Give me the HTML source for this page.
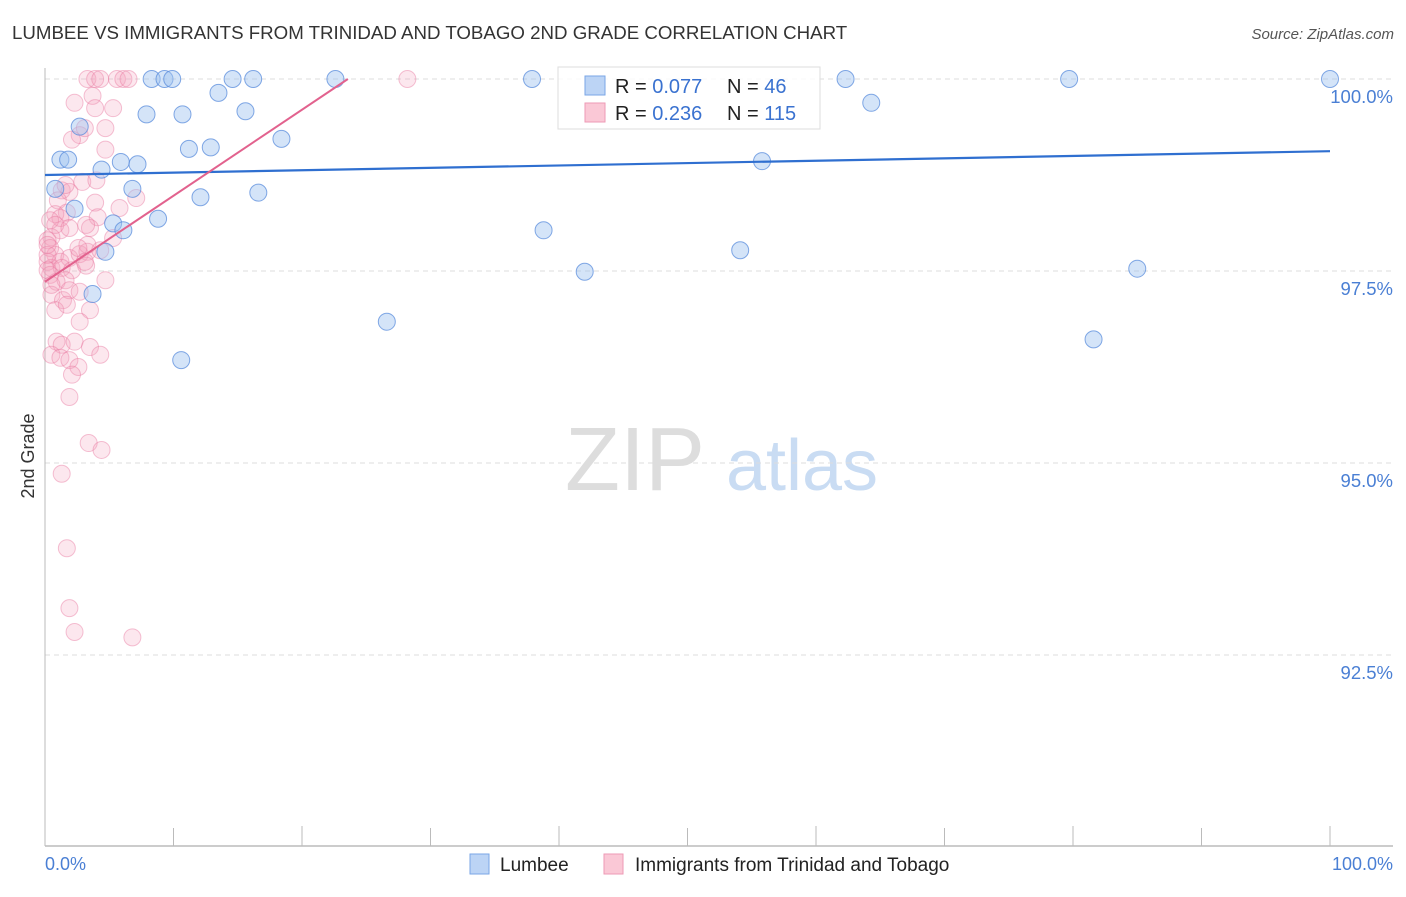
<!DOCTYPE html>
<html><head><meta charset="utf-8"><style>
body{margin:0;background:#fff;font-family:"Liberation Sans",sans-serif;}
svg text{font-family:"Liberation Sans",sans-serif;}
</style></head><body>
<svg id="chart" width="1406" height="892" xmlns="http://www.w3.org/2000/svg">
<text x="12" y="39" font-size="18.7" fill="#333">LUMBEE VS IMMIGRANTS FROM TRINIDAD AND TOBAGO 2ND GRADE CORRELATION CHART</text>
<text x="1394" y="39" font-size="15" fill="#555" text-anchor="end" font-style="italic">Source: ZipAtlas.com</text>
<text transform="translate(34,456) rotate(-90)" font-size="18" fill="#333" text-anchor="middle">2nd Grade</text>
<g>
<text x="635" y="490" font-size="90" fill="#ddd" text-anchor="middle" font-family="Liberation Serif,serif">ZIP</text>
<text x="802" y="490" font-size="72" fill="#c9dcf3" text-anchor="middle">atlas</text>
</g>
<g id="grid"></g><g id="axes"></g><g id="pts"></g><g id="trends"></g>
<g>
<rect x="558" y="67" width="262" height="62" fill="rgba(255,255,255,0.8)" stroke="#ddd"/>
<rect x="585" y="76" width="20" height="19" fill="#bcd4f5" stroke="#7aa6e6"/>
<text x="615" y="93" font-size="20" fill="#222">R = <tspan fill="#3a72d0">0.077</tspan></text>
<text x="727" y="93" font-size="20" fill="#222">N =  <tspan fill="#3a72d0">46</tspan></text>
<rect x="585" y="103" width="20" height="19" fill="#fac8d6" stroke="#ee9ab5"/>
<text x="615" y="120" font-size="20" fill="#222">R =  <tspan fill="#3a72d0">0.236</tspan></text>
<text x="727" y="120" font-size="20" fill="#222">N = <tspan fill="#3a72d0">115</tspan></text>
</g>
<g>
<rect x="470" y="854" width="19" height="20" fill="#bcd4f5" stroke="#7aa6e6"/>
<text x="500" y="871" font-size="19" fill="#222">Lumbee</text>
<rect x="604" y="854" width="19" height="20" fill="#fac8d6" stroke="#ee9ab5"/>
<text x="635" y="871" font-size="19" fill="#222">Immigrants from Trinidad and Tobago</text>
</g>
</svg>
<script>
const yTicks=[100,97.5,95,92.5];
const yTickLabels=["100.0%","97.5%","95.0%","92.5%"];
const xTickLabels=["0.0%","100.0%"];
const blueX=[8.3,9.3,9.9,14.6,16.2,22.6,37.9,62.3,79.7,100,13.5,7.9,10.7,15.6,64.3,2.7,11.2,12.9,18.4,1.2,1.8,5.9,7.2,4.4,55.8,0.8,6.8,12.1,16.6,2.3,5.3,8.8,6.1,38.8,4.7,54.1,3.7,42.0,85.0,26.6,81.6,10.6];
const blueY=[100,100,100,100,100,100,100,100,100,100,99.82,99.54,99.54,99.58,99.69,99.38,99.09,99.11,99.22,98.95,98.95,98.92,98.89,98.82,98.93,98.57,98.57,98.46,98.52,98.31,98.12,98.18,98.03,98.03,97.75,97.77,97.20,97.49,97.53,96.84,96.61,96.34];
const pinkX=[3.3,3.9,4.3,5.6,6.1,6.5,28.2,2.3,3.7,5.3,3.9,2.7,3.1,2.1,4.7,4.7,2.9,4.0,1.3,1.9,1.0,3.9,1.7,0.8,4.1,1.2,3.5,5.3,0.5,0.2,0.4,0.8,0.2,0.5,1.2,1.9,2.7,3.3,4.3,1.3,2.1,3.2,0.4,0.9,1.6,0.5,1.4,1.9,2.7,3.5,0.8,1.7,2.7,4.7,0.9,1.3,2.3,3.5,0.5,1.2,1.9,4.3,2.6,2.1,1.9,3.4,4.4,1.3,1.7,1.9,2.3,6.8,0.2,0.2,0.2,0.5,3.2,1.6,1.2,3.3,2.6,3.1,5.8,0.4,0.8,1.9,7.1];
const pinkY=[100,100,100,100,100,100,100,99.69,99.78,99.62,99.62,99.27,99.36,99.21,99.08,99.36,98.66,98.68,98.55,98.53,98.42,98.39,98.26,98.24,98.20,98.03,98.06,97.93,97.94,97.90,97.80,97.71,97.62,97.54,97.62,97.67,97.72,97.75,97.77,97.54,97.51,97.57,97.45,97.36,97.38,97.19,97.12,97.25,97.23,96.99,96.99,97.06,96.84,97.38,96.58,96.54,96.58,96.51,96.41,96.37,96.34,96.41,96.25,96.15,95.86,95.26,95.17,94.86,93.89,93.11,92.80,92.73,97.71,97.84,97.51,97.32,98.10,98.62,98.19,97.84,97.80,97.62,98.32,98.16,98.10,98.06,98.45];
const blueTrend=[98.75,99.06];
const pinkTrend=[97.36,0.112];
const NS="http://www.w3.org/2000/svg";
const X=v=>45+v*12.85;
const Y=v=>79+(100-v)*76.8;
function mk(tag,attrs,parent){const e=document.createElementNS(NS,tag);for(const k in attrs)e.setAttribute(k,attrs[k]);document.getElementById(parent).appendChild(e);return e;}
yTicks.forEach((t,i)=>{
 const l=mk('line',{x1:45,x2:1393,y1:Y(t),y2:Y(t),stroke:'#ddd','stroke-dasharray':'5,4'},'grid');
 
 
 const tx=mk('text',{x:1393,y:Y(t)+24,'font-size':18.5,fill:'#4a7fd4','text-anchor':'end'},'grid');
 tx.textContent=yTickLabels[i];
 
 
});
const ax=mk('line',{x1:45,x2:45,y1:68,y2:846,stroke:'#bbb'},'axes');


const bx=mk('line',{x1:45,x2:1393,y1:846,y2:846,stroke:'#bbb','stroke-width':1.5},'axes');


for(let i=0;i<=10;i++){
 const t=mk('line',{x1:X(i*10),x2:X(i*10),y1:(i%2==1)?828:826,y2:846,stroke:'#bbb'},'axes');
 
 
}
[[0,'start'],[100,'end']].forEach((p,i)=>{
 const tx=mk('text',{x:i?1393:45,y:870,'font-size':18,fill:'#4a7fd4','text-anchor':p[1]},'axes');
 tx.textContent=xTickLabels[i];
 
 
});
pinkX.forEach((x,i)=>{
 const c=mk('circle',{cx:X(x),cy:Y(pinkY[i]),r:8.5,fill:'rgba(245,160,188,0.25)',stroke:'rgba(232,120,160,0.45)','stroke-width':1},'pts');
 
 
});
blueX.forEach((x,i)=>{
 const c=mk('circle',{cx:X(x),cy:Y(blueY[i]),r:8.5,fill:'rgba(160,196,240,0.45)',stroke:'rgba(90,140,220,0.75)','stroke-width':1},'pts');
 
 
});
const bl=mk('line',{x1:X(0),y1:Y(blueTrend[0]),x2:X(100),y2:Y(blueTrend[1]),stroke:'#2f6fd0','stroke-width':2.2},'trends');


const pEnd=Math.min(100,(100-pinkTrend[0])/pinkTrend[1]);
const pl=mk('line',{x1:X(0),y1:Y(pinkTrend[0]),x2:X(pEnd),y2:Y(pinkTrend[0]+pinkTrend[1]*pEnd),stroke:'#e2628e','stroke-width':2},'trends');


</script>
</body></html>
